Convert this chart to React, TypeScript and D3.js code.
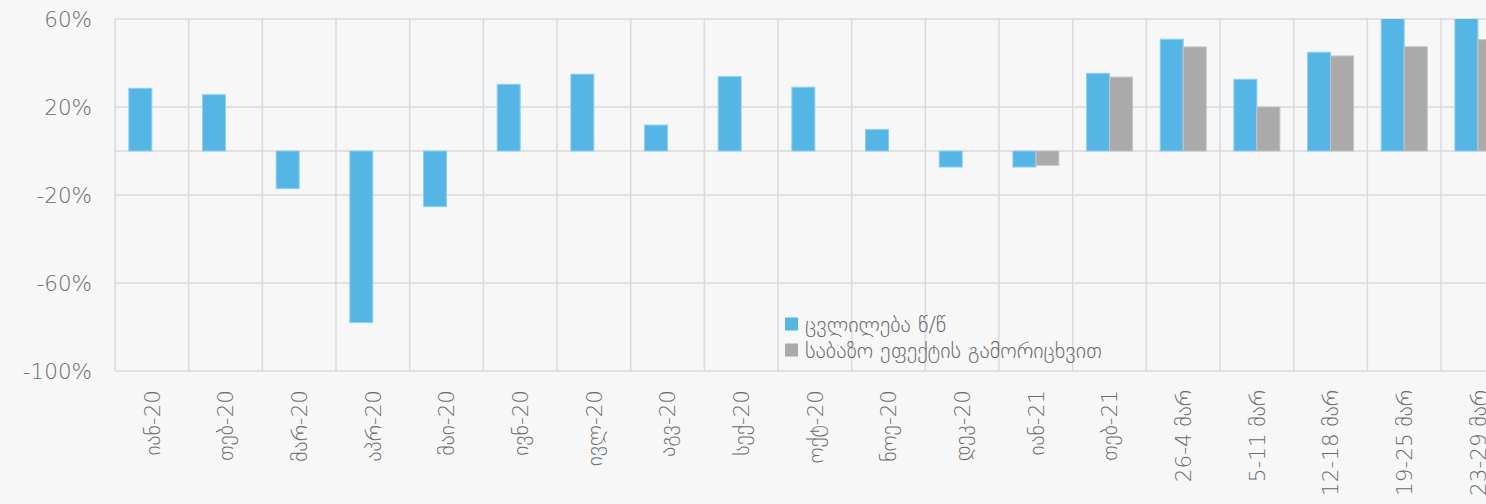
import React, { useEffect, useRef } from 'react';
import * as d3 from 'd3';

// categories on the x axis
const categories = [
  'იან-20', 'თებ-20', 'მარ-20', 'აპრ-20', 'მაი-20', 'ივნ-20', 'ივლ-20', 'აგვ-20',
  'სექ-20', 'ოქტ-20', 'ნოე-20', 'დეკ-20', 'იან-21', 'თებ-21', '26-4 მარ',
  '5-11 მარ', '12-18 მარ', '19-25 მარ', '23-29 მარ',
];

// % change y/y
const changeYoY = [
  28.5, 25.6, -17.1, -78, -25.3, 30.3, 34.9, 11.8, 33.8, 29, 9.8, -7.3, -7.3,
  35.3, 50.8, 32.6, 44.9, 68, 72,
];

// excluding base effect
const excludingBase = [
  null, null, null, null, null, null, null, null, null, null, null, null, -6.5,
  33.6, 47.3, 20, 43.2, 47.4, 50.6,
];

const seriesNames = ['ცვლილება წ/წ', 'საბაზო ეფექტის გამორიცხვით'];
const seriesColors = ['#55b6e6', '#aaaaaa'];
const seriesStroke = ['#8fd0f2', '#c4c4c4'];

const yTicks = [-100, -60, -20, 20, 60];

const App = () => {
  const svgRef = useRef<SVGSVGElement>(null);

  useEffect(() => {
    const width = 1486;
    const height = 504;
    const left = 115;
    const top = 19;
    const bottom = 371;
    const step = 73.67;
    const font = "'DejaVu Sans', sans-serif";
    const textColor = '#6a6a6a';

    const svg = d3.select(svgRef.current);
    svg.selectAll('*').remove();

    svg.append('rect')
      .attr('width', width)
      .attr('height', height)
      .attr('fill', '#f7f7f7');

    const x = d3.scaleBand()
      .domain(categories)
      .range([left, left + step * categories.length]);

    const x1 = d3.scaleBand()
      .domain(['a', 'b'])
      .range([0, x.bandwidth()])
      .paddingOuter(0.601);

    const y = d3.scaleLinear()
      .domain([-100, 60])
      .range([bottom, top]);

    // grid
    const grid = svg.append('g')
      .attr('stroke', '#dadada')
      .attr('stroke-width', 1.5);

    grid.selectAll('line.h')
      .data([...yTicks, 0])
      .join('line')
      .attr('class', 'h')
      .attr('x1', left)
      .attr('x2', width)
      .attr('y1', d => y(d))
      .attr('y2', d => y(d));

    grid.selectAll('line.v')
      .data(categories)
      .join('line')
      .attr('class', 'v')
      .attr('x1', d => x(d)!)
      .attr('x2', d => x(d)!)
      .attr('y1', y(60))
      .attr('y2', y(-100));

    // clip for bars exceeding 60%
    svg.append('clipPath')
      .attr('id', 'plot-clip')
      .append('rect')
      .attr('x', left)
      .attr('y', top)
      .attr('width', width - left)
      .attr('height', bottom - top);

    const bars = svg.append('g').attr('clip-path', 'url(#plot-clip)');

    const rows = [changeYoY, excludingBase];
    rows.forEach((vals, si) => {
      const key = si === 0 ? 'a' : 'b';
      bars.selectAll(`rect.s${si}`)
        .data(vals.map((v, i) => ({ cat: categories[i], v })).filter(d => d.v !== null))
        .join('rect')
        .attr('class', `s${si}`)
        .attr('x', d => x(d.cat)! + x1(key)!)
        .attr('width', x1.bandwidth())
        .attr('y', d => y(Math.max(0, d.v as number)))
        .attr('height', d => Math.abs(y(d.v as number) - y(0)))
        .attr('fill', seriesColors[si])
        .attr('stroke', seriesStroke[si])
        .attr('stroke-width', 1);
    });

    // y labels
    svg.append('g')
      .selectAll('text')
      .data(yTicks)
      .join('text')
      .attr('x', 92)
      .attr('y', d => y(d))
      .attr('dy', '0.36em')
      .attr('text-anchor', 'end')
      .style('font-family', font)
      .style('font-size', '21.5px')
      .style('font-weight', 300)
      .attr('fill', textColor)
      .text(d => `${d}%`);

    // x labels
    svg.append('g')
      .selectAll('text')
      .data(categories)
      .join('text')
      .attr('transform', d => `translate(${x(d)! + x.bandwidth() / 2},390) rotate(-90)`)
      .attr('dy', '0.36em')
      .attr('text-anchor', 'end')
      .style('font-family', font)
      .style('font-size', '21.5px')
      .style('font-weight', 300)
      .attr('fill', textColor)
      .text(d => d);

    // legend
    const legend = svg.append('g').attr('transform', 'translate(785,324)');
    seriesNames.forEach((name, i) => {
      const row = legend.append('g').attr('transform', `translate(0,${i * 26})`);
      row.append('rect')
        .attr('x', 0)
        .attr('y', -6.5)
        .attr('width', 13)
        .attr('height', 13)
        .attr('fill', seriesColors[i]);
      row.append('text')
        .attr('x', 20)
        .attr('y', 0)
        .attr('dy', '0.36em')
        .style('font-family', font)
        .style('font-size', '22px')
        .style('font-weight', 300)
        .attr('fill', textColor)
        .text(name);
    });
  }, []);

  return (
    <svg
      ref={svgRef}
      width={1486}
      height={504}
      style={{ position: 'absolute', left: 0, top: 0, display: 'block' }}
    />
  );
};

export default App;
